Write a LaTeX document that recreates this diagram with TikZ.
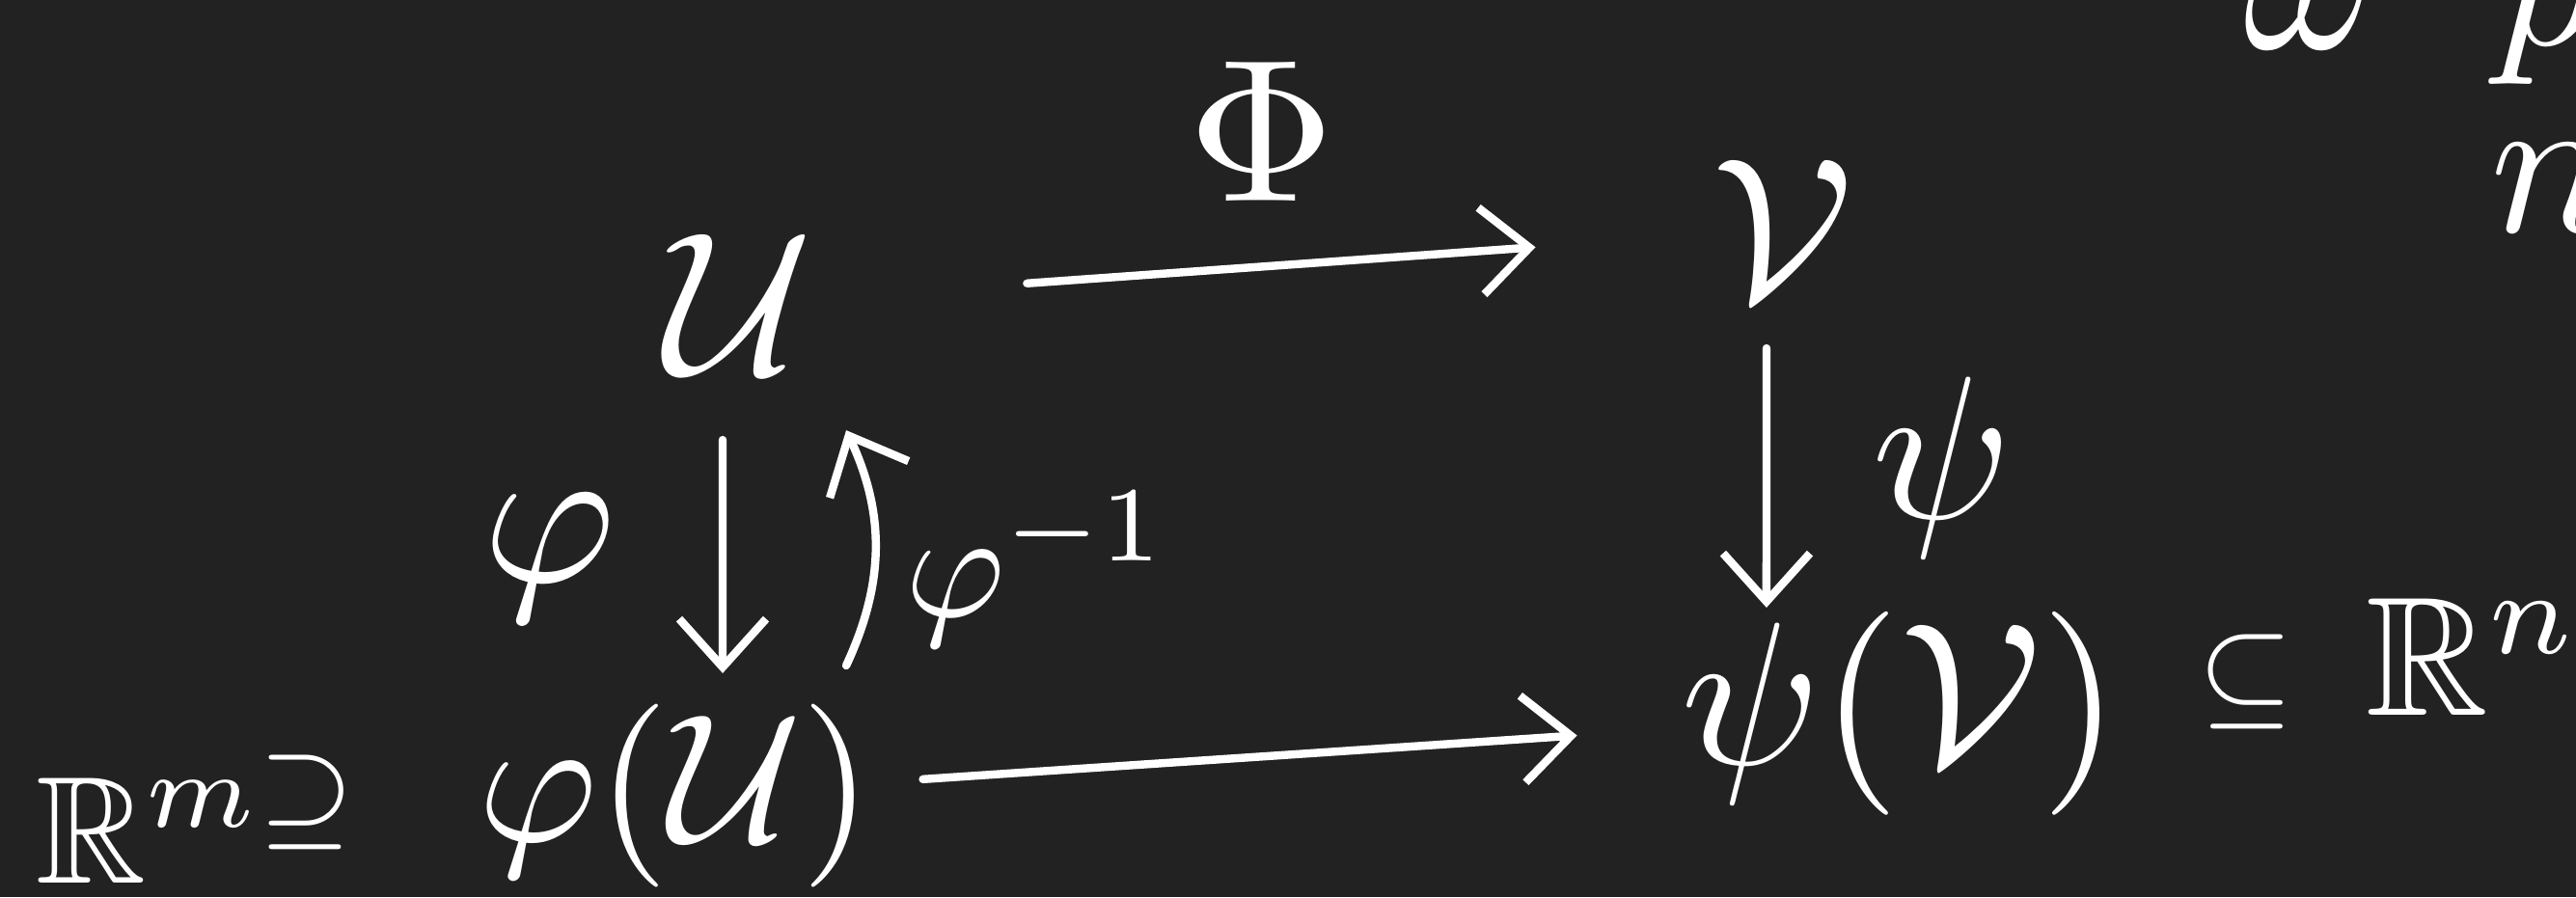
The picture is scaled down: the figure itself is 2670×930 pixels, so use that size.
\documentclass[tikz,border=0pt]{standalone}
\usepackage{amssymb}
\usetikzlibrary{arrows.meta}
\definecolor{board}{RGB}{35,34,35}
\tikzset{
  chalk/.style={white, line width=2.4pt, line cap=round},
  maps/.style={chalk, -{Straight Barb[length=5mm, width=9mm, line width=2.4pt]}},
  obj/.style={white, scale=6, inner sep=0pt},
  rel/.style={white, scale=3.6, inner sep=0pt},
}
\begin{document}
\begin{tikzpicture}[x=0.01cm, y=-0.01cm]
  % board
  \fill[board] (0,0) rectangle (2670,930);
  \useasboundingbox (0,0) rectangle (2670,930);
  \clip (0,0) rectangle (2670,930);
  % define objects
  \node[obj] (U)    at (766,315)  {$\mathcal{U}$};
  \node[obj] (V)    at (1848,238) {$\mathcal{V}$};
  \node[obj, scale=0.9] (phiU) at (700,825)  {$\varphi(\mathcal{U})$};
  \node[obj] (psiV) at (1970,740) {$\psi(\mathcal{V})$};
  \node[obj, scale=0.75, anchor=base west] (Rm) at (34,915) {$\mathbb{R}^m$};
  \node[rel] (sup)  at (318,832)  {$\supseteq$};
  \node[rel] (sub)  at (2328,707) {$\subseteq$};
  \node[obj, scale=5/6, anchor=base west] (Rn) at (2449,741) {$\mathbb{R}^n$};
  % labels
  \node[obj] (Phi)  at (1308,136) {$\Phi$};
  \node[obj] (phi)  at (570,579)  {$\varphi$};
  \node[obj, scale=0.75] (phiinv) at (1075,590) {$\varphi^{-1}$};
  \node[obj] (psi)  at (2013,485) {$\psi$};
  % cut off at the edge
  \node[obj] (w)    at (2395,5)   {$\omega$};
  \node[obj] (p)    at (2640,22)  {$p$};
  \node[obj] (n)    at (2645,195) {$n$};
  % maps
  \draw[maps, shorten <=2.99cm, shorten >=2.57cm] (U.center) -- (V.center);
  \draw[maps, shorten <=2.57cm, shorten >=3.36cm] (phiU.center) -- (psiV.center);
  \draw[maps, shorten <=1.41cm, shorten >=1.27cm] ([xshift=-0.17cm]U.center) -- ([xshift=0.49cm]phiU.center);
  \draw[maps] ([xshift=1.77cm, yshift=1.35cm]phiU.center) to[bend right=25] ([xshift=1.11cm, yshift=-1.31cm]U.center);
  \draw[maps, shorten <=1.23cm, shorten >=1.10cm] ([xshift=-0.17cm]V.center) -- ([xshift=-1.39cm]psiV.center);
\end{tikzpicture}
\end{document}
